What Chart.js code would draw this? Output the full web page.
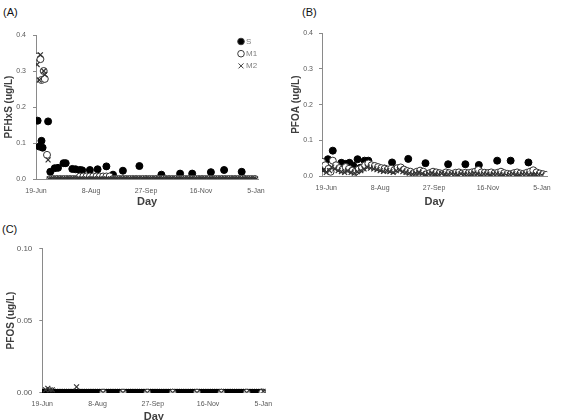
<!DOCTYPE html>
<html lang="en">
<head>
  <meta charset="UTF-8" />
  <title>PFHxS / PFOA / PFOS</title>
  <script src="https://cdn.jsdelivr.net/npm/chart.js"></script>
  <style>
    body { margin: 0; width: 581px; height: 420px; overflow: hidden; background: #fff; position: relative; font-family: 'Liberation Sans', Arial, sans-serif; }
    canvas, .tag { position: absolute; }
    .tag { font-size: 11px; color: #111; }
  </style>
</head>
<body>
  <div class="tag" style="left:3px;top:6px">(A)</div>
  <div class="tag" style="left:302px;top:6px">(B)</div>
  <div class="tag" style="left:2px;top:223px">(C)</div>

  <canvas id="chartA" width="290" height="210" style="left:0;top:0"></canvas>
  <canvas id="chartB" width="291" height="210" style="left:290px;top:0"></canvas>
  <canvas id="chartC" width="290" height="216" style="left:0;top:210px"></canvas>

  <script>
    // x = days after 19-Jun, y = concentration (ug/L)
    const dayTicks = [0, 50, 100, 150, 200];
    const dayLabels = ['19-Jun', '8-Aug', '27-Sep', '16-Nov', '5-Jan'];
    const seriesNames = ['S', 'M1', 'M2'];

    // (A) PFHxS
    const pfhxsS = [[1.5,0.162],[3,0.09],[5,0.106],[6,0.087],[11,0.16],[13,0.02],[17,0.03],[20,0.031],[25,0.044],[27,0.044],
      [33,0.028],[36,0.027],[40,0.025],[42,0.024],[49,0.025],[56,0.027],[64,0.035],[70,0.012],[79,0.023],[94,0.036],
      [114,0.012],[131,0.015],[142,0.015],[159,0.019],[171,0.025],[187,0.02]];
    const pfhxsM1 = [[1,0.34],[4,0.333],[5,0.275],[7,0.30],[8,0.278],[10,0.067],
      [13,0],[16,0],[19,0],[22,0],[25,0],[28,0],[31,0],[34,0],[37,0],[40,0.007],[43,0.007],[46,0.007],[49,0.007],[52,0.007],
      [55,0.007],[58,0.007],[61,0.007],[64,0.007],[67,0.007],[70,0],[73,0],[76,0],[79,0],[82,0],[85,0],[88,0],[91,0],[94,0],
      [97,0],[100,0],[103,0],[106,0],[109,0],[112,0],[115,0],[118,0],[121,0],[124,0],[127,0],[130,0],[133,0],[136,0],[139,0],
      [142,0],[145,0],[148,0],[151,0],[154,0],[157,0],[160,0],[163,0],[166,0],[169,0],[172,0],[175,0],[178,0],[181,0],[184,0],
      [187,0],[190,0],[193,0],[196,0],[199,0]];
    const pfhxsM2 = [[1,0.318],[3,0.275],[4,0.345],[7,0.30],[8,0.29],[11,0.053],
      [12,0],[14,0],[16,0],[18,0],[20,0],[22,0],[24,0],[26,0],[28,0],[30,0],[32,0],[34,0],[36,0],[38,0],[40,0],[42,0],[44,0],
      [46,0],[48,0],[50,0],[52,0],[54,0],[56,0],[58,0],[60,0],[62,0],[64,0],[66,0],[68,0],[70,0],[72,0],[74,0],[76,0],[78,0],
      [80,0],[82,0],[84,0],[86,0],[88,0],[90,0],[92,0],[94,0],[96,0],[98,0],[100,0],[102,0],[104,0],[106,0],[108,0],[110,0],
      [112,0],[114,0],[116,0],[118,0],[120,0],[122,0],[124,0],[126,0],[128,0],[130,0],[132,0],[134,0],[136,0],[138,0],[140,0],
      [142,0],[144,0],[146,0],[148,0],[150,0],[152,0],[154,0],[156,0],[158,0],[160,0],[162,0],[164,0],[166,0],[168,0],[170,0],
      [172,0],[174,0],[176,0],[178,0],[180,0],[182,0],[184,0],[186,0],[188,0],[190,0],[192,0],[194,0],[196,0],[198,0],[200,0]];

    // (B) PFOA
    const pfoaS = [[-3,0.022],[-1,0.03],[1.5,0.047],[6,0.071],[14,0.037],[18,0.034],[21.5,0.037],[25,0.029],[29,0.047],[31.5,0.023],
      [35.5,0.043],[39,0.043],[54,0.021],[61,0.038],[76,0.048],[92,0.036],[113,0.033],[129,0.033],[141.5,0.031],[158.5,0.043],
      [171,0.043],[187.5,0.038]];
    const pfoaM1 = [[-4,0.04],[-1,0.03],[2,0.02],[4,0.012],[6,0.043],[9,0.03],[12,0.022],[15,0.018],[18,0.025],[21,0.02],
      [24,0.015],[27,0.012],[30,0.018],[33,0.022],[36,0.03],[39,0.035],[42,0.03],[45,0.028],[48,0.025],[51,0.022],[54,0.02],
      [57,0.018],[60,0.02],[63,0.016],[66,0.022],[69,0.024],[72,0.018],[75,0.014],[78,0.012],[81,0.008],[84,0.012],[87,0.015],
      [90,0.012],[93,0.005],[96,0.008],[99,0.012],[102,0.01],[105,0.008],[108,0.006],[111,0.01],[114,0.008],[117,0.006],
      [120,0.009],[123,0.01],[126,0.007],[129,0.009],[132,0.008],[135,0.01],[138,0.012],[141,0.017],[144,0.01],[147,0.009],
      [150,0.008],[153,0.01],[156,0.007],[159,0.009],[162,0.012],[165,0.008],[168,0.006],[171,0.005],[174,0.008],[177,0.01],
      [180,0.007],[183,0.006],[186,0.009],[189,0.012],[192,0.016],[195,0.01],[198,0.007],[201,0.005],[204,0.003]];
    const pfoaM2 = [[-3,0.015],[0,0.01],[3,0.015],[5,0.025],[8,0.02],[11,0.015],[14,0.012],[17,0.01],[20,0.015],[23,0.01],
      [26,0.008],[29,0.012],[32,0.015],[35,0.02],[38,0.025],[41,0.022],[44,0.02],[47,0.018],[50,0.015],[53,0.013],[56,0.015],
      [59,0.012],[62,0.01],[65,0.015],[68,0.018],[71,0.012],[74,0.01],[77,0.008],[80,0.005],[83,0.008],[86,0.01],[89,0.007],
      [92,0.003],[95,0.006],[98,0.008],[101,0.005],[104,0.004],[107,0.007],[110,0.005],[113,0.004],[116,0.006],[119,0.005],
      [122,0.003],[125,0.006],[128,0.005],[131,0.004],[134,0.006],[137,0.008],[140,0.005],[143,0.004],[146,0.006],[149,0.005],
      [152,0.003],[155,0.005],[158,0.006],[161,0.004],[164,0.003],[167,0.002],[170,0.004],[173,0.006],[176,0.004],[179,0.003],
      [182,0.005],[185,0.006],[188,0.004],[191,0.003],[194,0.005],[197,0.004],[200,0.002]];

    // (C) PFOS
    const pfosS = [[0,0],[1,0],[2,0],[3,0],[4,0],[5,0],[6,0],[7,0],[8,0],[9,0],[10,0],[12,0],[14,0],[16,0],[18,0],[20,0],
      [22,0],[24,0],[26,0],[28,0],[30,0],[32,0],[34,0],[36,0],[38,0],[40,0],[42,0],[44,0],[46,0],[48,0],[50,0],[52,0],[54,0],
      [56,0],[58,0],[60,0],[62,0],[64,0],[66,0],[68,0],[70,0],[72,0],[74,0],[76,0],[78,0],[80,0],[82,0],[84,0],[86,0],[88,0],
      [90,0],[92,0],[94,0],[96,0],[98,0],[100,0],[102,0],[104,0],[106,0],[108,0],[110,0],[112,0],[114,0],[116,0],[118,0],
      [120,0],[122,0],[124,0],[126,0],[128,0],[130,0],[132,0],[134,0],[136,0],[138,0],[140,0],[142,0],[144,0],[146,0],[148,0],
      [150,0],[152,0],[154,0],[156,0],[158,0],[160,0],[162,0],[164,0],[166,0],[168,0],[170,0],[172,0],[174,0],[176,0],[178,0],
      [180,0],[182,0],[184,0],[186,0],[188,0],[190,0],[192,0],[194,0],[196,0],[198,0],[200,0]];
    const pfosM1 = [[55,0],[73,0],[95,0],[118,0],[140,0],[162,0],[185,0],[199,0]];
    const pfosM2 = [[3,0.002],[5,0.003],[7,0.002],[9,0.002],[31,0.004],[55,0],[73,0],[95,0],[118,0],[140,0],[162,0],
      [185,0],[200,0.001]];

    const toPts = arr => arr.map(p => ({ x: p[0], y: p[1] }));

    const legendA = {
      id: 'legendA',
      afterDraw(chart) {
        const ctx = chart.ctx;
        ctx.save();
        ctx.font = '8px "Liberation Sans", Arial, sans-serif';
        ctx.textBaseline = 'middle';
        seriesNames.forEach((name, i) => {
          const x = 241, y = 41.5 + i * 12.2;
          ctx.lineWidth = 1;
          ctx.strokeStyle = '#3a3a3a';
          if (i === 2) {
            ctx.beginPath();
            ctx.moveTo(x - 2.5, y - 2.5); ctx.lineTo(x + 2.5, y + 2.5);
            ctx.moveTo(x + 2.5, y - 2.5); ctx.lineTo(x - 2.5, y + 2.5);
            ctx.stroke();
          } else {
            ctx.beginPath();
            ctx.arc(x, y, 3.3, 0, Math.PI * 2);
            ctx.fillStyle = i === 0 ? '#000' : '#fff';
            ctx.fill();
            ctx.stroke();
          }
          ctx.fillStyle = '#808080';
          ctx.fillText(name, x + 5, y);
        });
        ctx.restore();
      }
    };

    function makeChart(id, o) {
      return new Chart(document.getElementById(id), {
        type: 'scatter',
        data: {
          datasets: [
            { label: 'S', data: toPts(o.s), order: 3, pointStyle: 'circle', pointRadius: 3.5,
              backgroundColor: '#000', borderColor: '#000', borderWidth: 1 },
            { label: 'M1', data: toPts(o.m1), order: 2, pointStyle: 'circle', pointRadius: 3.5,
              backgroundColor: '#fff', borderColor: '#333', borderWidth: 1 },
            { label: 'M2', data: toPts(o.m2), order: 1, pointStyle: 'crossRot', pointRadius: 3.5,
              backgroundColor: '#333', borderColor: '#333', borderWidth: 1.2 }
          ]
        },
        options: {
          responsive: false,
          animation: false,
          events: [],
          layout: { padding: { top: o.top, right: o.right, left: 0, bottom: 0 } },
          plugins: { legend: { display: false }, tooltip: { enabled: false } },
          scales: {
            x: {
              type: 'linear', min: o.xMin, max: o.xMax,
              afterBuildTicks: s => { s.ticks = dayTicks.map(v => ({ value: v })); },
              afterFit: s => { s.height = o.xH; },
              ticks: { callback: v => dayLabels[dayTicks.indexOf(v)], maxRotation: 0, autoSkip: false,
                       padding: o.xPad, color: '#595959', font: { size: 7 } },
              grid: { display: false, drawTicks: false },
              border: { display: true, color: '#8a8a8a' },
              title: { display: true, text: 'Day', color: '#3f3f3f',
                       font: { size: 11, weight: 'bold' }, padding: { top: 0, bottom: o.dayPad } }
            },
            y: {
              min: 0, max: o.yMax,
              afterFit: s => { s.width = o.left; },
              ticks: { stepSize: o.yStep, callback: v => v.toFixed(o.dec), padding: o.yPad,
                       color: '#595959', font: { size: o.ySize } },
              grid: { display: true, drawOnChartArea: false, drawTicks: true, tickLength: 3, color: '#8a8a8a' },
              border: { display: true, color: '#8a8a8a' },
              title: { display: true, text: o.yTitle, color: '#3f3f3f',
                       font: { size: 10, weight: 'bold' }, padding: { top: o.yTitlePad, bottom: 0 } }
            }
          }
        },
        plugins: o.plugins || []
      });
    }

    makeChart('chartA', {
      s: pfhxsS, m1: pfhxsM1, m2: pfhxsM2, yTitle: 'PFHxS (ug/L)',
      left: 36, top: 35, right: 31.8, xH: 31, xMin: 0, xMax: 202,
      yMax: 0.4, yStep: 0.1, dec: 1, yPad: 7, ySize: 7, xPad: 8, dayPad: 1.4, yTitlePad: 3,
      plugins: [legendA]
    });

    makeChart('chartB', {
      s: pfoaS, m1: pfoaM1, m2: pfoaM2, yTitle: 'PFOA (ug/L)',
      left: 32, top: 33.3, right: 33.7, xH: 34, xMin: -4, xMax: 205,
      yMax: 0.4, yStep: 0.1, dec: 1, yPad: 6, ySize: 7, xPad: 8, dayPad: 1.4, yTitlePad: 0
    });

    makeChart('chartC', {
      s: pfosS, m1: pfosM1, m2: pfosM2, yTitle: 'PFOS (ug/L)',
      left: 42.3, top: 38.3, right: 24.5, xH: 33.3, xMin: 0, xMax: 202,
      yMax: 0.1, yStep: 0.05, dec: 2, yPad: 7, ySize: 8, xPad: 7, dayPad: 2.7, yTitlePad: 4.8
    });
  </script>
</body>
</html>
